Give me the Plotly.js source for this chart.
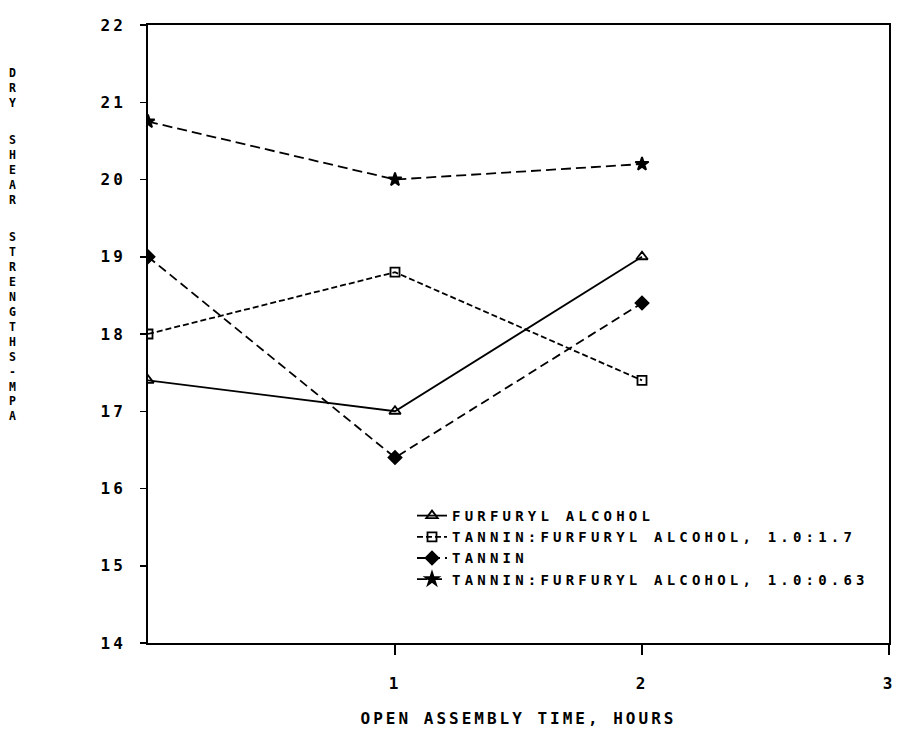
<!DOCTYPE html>
<html>
<head>
<meta charset="utf-8">
<script src="https://cdn.plot.ly/plotly-3.0.1.min.js"></script>
<style>
  html, body { margin: 0; padding: 0; background: #fff; }
  #chart { width: 897px; height: 733px; }
  .xtick text, .ytick text, .g-xtitle text { letter-spacing: 3px; }
  .legendtext { letter-spacing: 4.2px; }
</style>
</head>
<body>
<div id="chart"></div>
<script>
// ---- data ----
const hours = [0, 1, 2];
const furfurylAlcohol = [17.4, 17.0, 19.0];
const tanninFA_1_7 = [18.0, 18.8, 17.4];
const tannin = [19.0, 16.4, 18.4];
const tanninFA_0_63 = [20.75, 20.0, 20.2];
const seriesNames = [
  "FURFURYL ALCOHOL",
  "TANNIN:FURFURYL ALCOHOL, 1.0:1.7",
  "TANNIN",
  "TANNIN:FURFURYL ALCOHOL, 1.0:0.63"
];
const xTickVals = [1, 2, 3];
const xTickText = ["1", "2", "3"];
const yTickVals = [14, 15, 16, 17, 18, 19, 20, 21, 22];
const yTickText = ["14", "15", "16", "17", "18", "19", "20", "21", "22"];
const xTitle = "OPEN ASSEMBLY TIME, HOURS";
const yTitleWords = ["DRY", "SHEAR", "STRENGTHS-MPA"];

// ---- styling ----
const FONT = "DejaVu Sans Mono, Liberation Mono, monospace";
const baseFont = { family: FONT, size: 16, color: "#000", weight: "bold" };
const legendFont = { family: FONT, size: 14, color: "#000", weight: "bold" };

function tr(y, name, symbol, size, dash) {
  return {
    x: hours, y: y, name: name, type: "scatter", mode: "lines+markers",
    line: { color: "#000", width: 1.8, dash: dash },
    marker: { symbol: symbol, size: size, color: "#000", line: { color: "#000", width: 1.8 } }
  };
}

const data = [
  tr(furfurylAlcohol, seriesNames[0], "triangle-up-open", 10, "solid"),
  tr(tanninFA_1_7, seriesNames[1], "square-open", 9, "6px,3px"),
  tr(tannin, seriesNames[2], "diamond", 10, "9px,5px"),
  tr(tanninFA_0_63, seriesNames[3], "star", 10, "10px,5px")
];

// stacked vertical y-axis title: one annotation per word, letters stacked
const M = { l: 148, r: 8, t: 25, b: 90 };
const plotH = 733 - M.t - M.b;
const plotW = 897 - M.l - M.r;
const wordTops = [64, 131, 228];
const annotations = yTitleWords.map((w, i) => ({
  text: w.split("").join("<br>"),
  xref: "paper", yref: "paper",
  x: (12 - M.l) / plotW, y: (733 - M.b - wordTops[i]) / plotH,
  xanchor: "center", yanchor: "top", showarrow: false,
  font: { family: FONT, size: 11.5, color: "#000", weight: "bold" }
}));

const layout = {
  width: 897, height: 733,
  margin: M,
  paper_bgcolor: "#fff", plot_bgcolor: "#fff",
  font: baseFont,
  showlegend: true,
  legend: {
    x: (412 - M.l) / plotW, y: (733 - M.b - 500) / plotH,
    xanchor: "left", yanchor: "top",
    bgcolor: "rgba(0,0,0,0)", borderwidth: 0,
    font: legendFont, tracegroupgap: 0
  },
  xaxis: {
    range: [0, 3], tickvals: xTickVals, ticktext: xTickText,
    ticks: "outside", ticklen: 10, tickwidth: 1.5, tickcolor: "#000",
    ticklabelstandoff: 15,
    showline: true, mirror: true, linecolor: "#000", linewidth: 2,
    showgrid: false, zeroline: false,
    tickfont: baseFont,
    title: { text: xTitle, font: baseFont, standoff: 21 }
  },
  yaxis: {
    range: [14, 22], tickvals: yTickVals, ticktext: yTickText,
    ticks: "outside", ticklen: 6, tickwidth: 1.5, tickcolor: "#000",
    ticklabelstandoff: 11,
    showline: true, mirror: true, linecolor: "#000", linewidth: 2,
    showgrid: false, zeroline: false,
    tickfont: baseFont
  },
  annotations: annotations
};

Plotly.newPlot("chart", data, layout, { displayModeBar: false, staticPlot: true });
</script>
</body>
</html>
